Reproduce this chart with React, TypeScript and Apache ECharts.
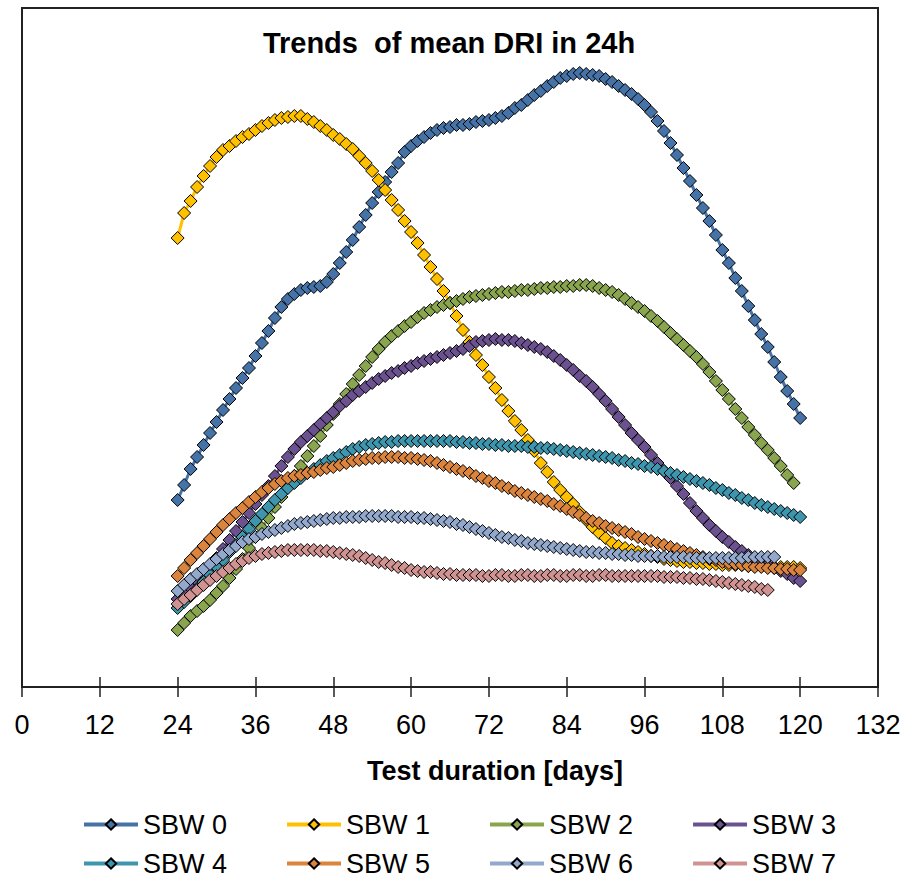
import React, { useEffect, useRef } from "react";
import * as echarts from "echarts";

const FONT = "'Liberation Sans', Arial, sans-serif";

const seriesNames = ["SBW 0", "SBW 1", "SBW 2", "SBW 3", "SBW 4", "SBW 5", "SBW 6", "SBW 7"];
const seriesColors = ["#4572A7", "#FFC000", "#89A54E", "#6C5190", "#3D96AE", "#DB843D", "#92A8CD", "#D19292"];
const startDay = 24;
const xTickStep = 12;
const xMin = 0;
const xMax = 132;

// mean DRI values, one per day starting at day 24
const sbw0 = [
  18.7, 20.2, 21.8, 23.0, 24.2, 25.4, 26.5, 27.7, 28.8, 29.9,
  30.9, 31.9, 33.1, 34.4, 35.6, 36.9, 38.0, 38.8, 39.3, 39.7,
  39.9, 40.0, 40.1, 40.5, 41.3, 42.4, 43.5, 44.7, 46.0, 47.2,
  48.4, 49.5, 50.5, 51.5, 52.4, 53.5, 54.1, 54.6, 55.0, 55.4,
  55.7, 55.9, 56.0, 56.2, 56.2, 56.3, 56.5, 56.6, 56.7, 56.9,
  57.1, 57.4, 57.9, 58.2, 58.7, 59.2, 59.6, 60.1, 60.5, 60.9,
  61.1, 61.3, 61.4, 61.3, 61.2, 61.1, 60.8, 60.5, 60.1, 59.7,
  59.3, 58.8, 58.2, 57.5, 56.6, 55.6, 54.4, 53.2, 51.9, 50.6,
  49.2, 47.9, 46.6, 45.2, 43.7, 42.4, 40.9, 39.6, 38.1, 36.7,
  35.3, 34.0, 32.5, 31.0, 29.6, 28.3, 26.9,
];
const sbw1 = [
  44.9, 47.4, 48.6, 50.0, 51.1, 52.1, 53.0, 53.7, 54.1, 54.6,
  55.0, 55.3, 55.7, 56.1, 56.4, 56.7, 56.9, 57.0, 57.1, 57.1,
  56.8, 56.5, 56.1, 55.7, 55.2, 54.8, 54.3, 53.8, 53.1, 52.4,
  51.6, 50.7, 49.7, 48.7, 47.7, 46.6, 45.5, 44.4, 43.2, 42.0,
  40.8, 39.6, 38.4, 37.1, 35.7, 34.5, 33.2, 32.2, 31.0, 29.9,
  28.7, 27.6, 26.6, 25.7, 24.7, 23.6, 22.4, 21.5, 20.5, 19.7,
  19.0, 18.3, 17.5, 16.7, 16.0, 15.4, 14.9, 14.4, 14.1, 13.9,
  13.7, 13.5, 13.3, 13.1, 13.0, 12.8, 12.7, 12.6, 12.5, 12.5,
  12.4, 12.4, 12.3, 12.3, 12.2, 12.2, 12.2, 12.2, 12.1, 12.1,
  12.1, 12.1, 12.0, 12.0, 12.0, 12.0, 11.9,
];
const sbw2 = [
  5.7, 6.4, 7.1, 7.6, 8.1, 8.7, 9.4, 10.1, 10.9, 11.8,
  12.8, 13.9, 15.0, 15.9, 16.9, 18.0, 19.0, 20.1, 21.1, 22.1,
  23.1, 24.1, 25.1, 26.2, 27.3, 28.3, 29.3, 30.3, 31.2, 32.1,
  33.0, 33.8, 34.5, 35.1, 35.6, 36.1, 36.5, 37.0, 37.4, 37.7,
  38.0, 38.2, 38.4, 38.6, 38.8, 39.0, 39.1, 39.2, 39.3, 39.4,
  39.5, 39.5, 39.6, 39.7, 39.7, 39.8, 39.9, 39.9, 40.0, 40.0,
  40.1, 40.1, 40.2, 40.2, 40.1, 39.9, 39.7, 39.5, 39.2, 38.8,
  38.4, 38.0, 37.6, 37.1, 36.6, 36.0, 35.4, 34.8, 34.2, 33.6,
  33.0, 32.3, 31.5, 30.6, 29.7, 28.8, 27.8, 26.9, 26.0, 25.2,
  24.4, 23.7, 22.9, 22.1, 21.2, 20.4,
];
const sbw3 = [
  8.8, 9.3, 9.9, 10.6, 11.3, 12.1, 12.9, 13.8, 14.7, 15.6,
  16.5, 17.4, 18.3, 19.2, 20.1, 21.1, 22.1, 23.0, 23.8, 24.5,
  25.1, 25.7, 26.3, 26.9, 27.5, 28.1, 28.6, 29.2, 29.6, 30.0,
  30.4, 30.8, 31.1, 31.4, 31.6, 31.9, 32.1, 32.4, 32.6, 32.8,
  33.0, 33.2, 33.4, 33.6, 33.8, 34.1, 34.5, 34.6, 34.7, 34.8,
  34.7, 34.7, 34.6, 34.4, 34.2, 34.0, 33.8, 33.5, 33.1, 32.7,
  32.2, 31.7, 31.1, 30.6, 30.0, 29.3, 28.6, 27.8, 27.0, 26.2,
  25.4, 24.7, 24.0, 23.2, 22.4, 21.6, 20.9, 20.1, 19.3, 18.4,
  17.6, 16.9, 16.2, 15.6, 15.0, 14.5, 14.0, 13.6, 13.2, 12.9,
  12.5, 12.2, 11.9, 11.6, 11.3, 10.9, 10.6,
];
const sbw4 = [
  7.9, 8.5, 9.1, 9.8, 10.5, 11.2, 12.0, 12.7, 13.5, 14.2,
  15.0, 15.8, 16.6, 17.3, 18.0, 18.7, 19.3, 19.9, 20.4, 20.9,
  21.4, 21.8, 22.2, 22.6, 22.9, 23.2, 23.5, 23.8, 24.0, 24.2,
  24.3, 24.4, 24.5, 24.5, 24.6, 24.6, 24.6, 24.6, 24.6, 24.6,
  24.6, 24.6, 24.6, 24.5, 24.5, 24.4, 24.4, 24.3, 24.3, 24.2,
  24.2, 24.1, 24.1, 24.1, 24.0, 24.0, 23.9, 23.9, 23.8, 23.7,
  23.6, 23.5, 23.4, 23.3, 23.2, 23.1, 23.0, 22.9, 22.7, 22.6,
  22.4, 22.3, 22.1, 22.0, 21.8, 21.6, 21.4, 21.2, 21.0, 20.8,
  20.6, 20.4, 20.2, 19.9, 19.7, 19.4, 19.2, 18.9, 18.7, 18.4,
  18.2, 18.0, 17.8, 17.6, 17.4, 17.2, 17.0,
];
const sbw5 = [
  11.1, 11.9, 12.7, 13.4, 14.1, 14.8, 15.5, 16.2, 16.8, 17.4,
  17.9, 18.5, 19.0, 19.5, 19.9, 20.3, 20.6, 20.9, 21.1, 21.2,
  21.4, 21.5, 21.7, 21.9, 22.0, 22.2, 22.4, 22.6, 22.7, 22.8,
  22.9, 22.9, 23.0, 23.0, 23.0, 22.9, 22.9, 22.8, 22.7, 22.6,
  22.4, 22.2, 22.0, 21.8, 21.6, 21.4, 21.1, 20.9, 20.6, 20.4,
  20.1, 19.9, 19.6, 19.4, 19.2, 19.0, 18.8, 18.6, 18.3, 18.1,
  17.8, 17.5, 17.2, 16.9, 16.6, 16.4, 16.1, 15.9, 15.7, 15.5,
  15.3, 15.0, 14.8, 14.6, 14.4, 14.2, 14.0, 13.8, 13.6, 13.4,
  13.2, 13.0, 12.8, 12.7, 12.5, 12.4, 12.3, 12.2, 12.1, 12.0,
  12.0, 11.9, 11.9, 11.8, 11.8, 11.7, 11.7,
];
const sbw6 = [
  9.6, 10.2, 10.8, 11.3, 11.8, 12.3, 12.8, 13.3, 13.7, 14.1,
  14.5, 14.8, 15.0, 15.3, 15.5, 15.7, 15.9, 16.1, 16.3, 16.4,
  16.5, 16.6, 16.7, 16.8, 16.9, 16.9, 17.0, 17.0, 17.0, 17.1,
  17.1, 17.1, 17.1, 17.1, 17.0, 17.0, 17.0, 16.9, 16.9, 16.8,
  16.7, 16.6, 16.5, 16.3, 16.2, 16.0, 15.8, 15.6, 15.4, 15.2,
  15.0, 14.9, 14.7, 14.6, 14.4, 14.3, 14.2, 14.1, 14.0, 13.9,
  13.8, 13.7, 13.6, 13.5, 13.5, 13.4, 13.4, 13.3, 13.3, 13.2,
  13.2, 13.1, 13.1, 13.1, 13.1, 13.0, 13.0, 13.0, 13.0, 12.9,
  12.9, 12.9, 12.9, 12.9, 12.9, 12.9, 12.9, 12.9, 13.0, 13.0,
  13.0, 13.0, 13.0,
];
const sbw7 = [
  8.3, 8.8, 9.2, 9.7, 10.2, 10.7, 11.1, 11.5, 11.9, 12.3,
  12.6, 12.9, 13.1, 13.3, 13.4, 13.5, 13.6, 13.7, 13.7, 13.7,
  13.7, 13.7, 13.6, 13.6, 13.5, 13.4, 13.3, 13.2, 13.1, 12.9,
  12.7, 12.5, 12.4, 12.2, 12.0, 11.9, 11.7, 11.6, 11.5, 11.5,
  11.4, 11.3, 11.3, 11.2, 11.2, 11.2, 11.2, 11.1, 11.1, 11.2,
  11.2, 11.1, 11.1, 11.2, 11.2, 11.1, 11.1, 11.2, 11.2, 11.1,
  11.1, 11.2, 11.2, 11.1, 11.1, 11.2, 11.2, 11.1, 11.1, 11.1,
  11.1, 11.1, 11.1, 11.1, 11.1, 11.0, 11.0, 11.0, 10.9, 10.9,
  10.8, 10.8, 10.7, 10.6, 10.5, 10.4, 10.3, 10.2, 10.1, 10.0,
  9.8, 9.7,
];

const allValues = [sbw0, sbw1, sbw2, sbw3, sbw4, sbw5, sbw6, sbw7];

export default function App() {
  const ref = useRef<HTMLDivElement>(null);

  useEffect(() => {
    if (!ref.current) return;
    const chart = echarts.init(ref.current, null, { renderer: "svg" });
    const toData = (vals: number[]) => vals.map((v, i) => [startDay + i, v]);

    const series = allValues.map((vals, idx) => ({
      name: seriesNames[idx],
      type: "line",
      data: toData(vals),
      symbol: "diamond",
      symbolSize: 13,
      showSymbol: true,
      clip: false,
      lineStyle: { width: 3, color: seriesColors[idx] },
      itemStyle: { color: seriesColors[idx], borderColor: "#000", borderWidth: 1 },
      emphasis: { disabled: true },
      z: 2 + idx,
    }));

    const legendBase = {
      left: 82,
      padding: 0,
      itemWidth: 54,
      itemHeight: 13,
      itemGap: 58,
      lineStyle: { width: 4 },
      textStyle: { fontSize: 27, lineHeight: 26, color: "#000", fontFamily: FONT },
      selectedMode: false,
    };

    chart.setOption({
      animation: false,
      backgroundColor: "#fff",
      textStyle: { fontFamily: FONT },
      grid: {
        left: 22,
        right: 38,
        top: 8,
        bottom: 190,
        show: true,
        borderColor: "#222",
        borderWidth: 2,
        backgroundColor: "transparent",
        containLabel: false,
      },
      xAxis: [
        {
          type: "value",
          min: xMin,
          max: xMax,
          interval: xTickStep,
          axisLine: { show: true, lineStyle: { color: "#222", width: 2 } },
          axisTick: { show: true, length: 10, lineStyle: { color: "#222", width: 1.5 } },
          axisLabel: { color: "#000", fontSize: 27, margin: 24, fontFamily: FONT },
          splitLine: { show: false },
        },
        {
          type: "value",
          min: xMin,
          max: xMax,
          interval: xTickStep,
          position: "bottom",
          axisLine: { show: false },
          axisTick: { show: true, inside: true, length: 10, lineStyle: { color: "#222", width: 1.5 } },
          axisLabel: { show: false },
          splitLine: { show: false },
        },
      ],
      yAxis: {
        type: "value",
        min: 0,
        max: 67.9,
        show: false,
        splitLine: { show: false },
      },
      legend: [
        { ...legendBase, top: 811, data: seriesNames.slice(0, 4) },
        { ...legendBase, top: 850, data: seriesNames.slice(4, 8) },
      ],
      graphic: [
        {
          type: "text",
          x: 449,
          y: 43,
          style: {
            text: "Trends  of mean DRI in 24h",
            font: `bold 29px ${FONT}`,
            textAlign: "center",
            textVerticalAlign: "middle",
            fill: "#000",
          },
        },
        {
          type: "text",
          x: 495,
          y: 771,
          style: {
            text: "Test duration [days]",
            font: `bold 27px ${FONT}`,
            textAlign: "center",
            textVerticalAlign: "middle",
            fill: "#000",
          },
        },
      ],
      series,
    });

    return () => chart.dispose();
  }, []);

  return (
    <div
      ref={ref}
      style={{ position: "fixed", left: 0, top: 0, width: 916, height: 877, background: "#fff" }}
    />
  );
}
